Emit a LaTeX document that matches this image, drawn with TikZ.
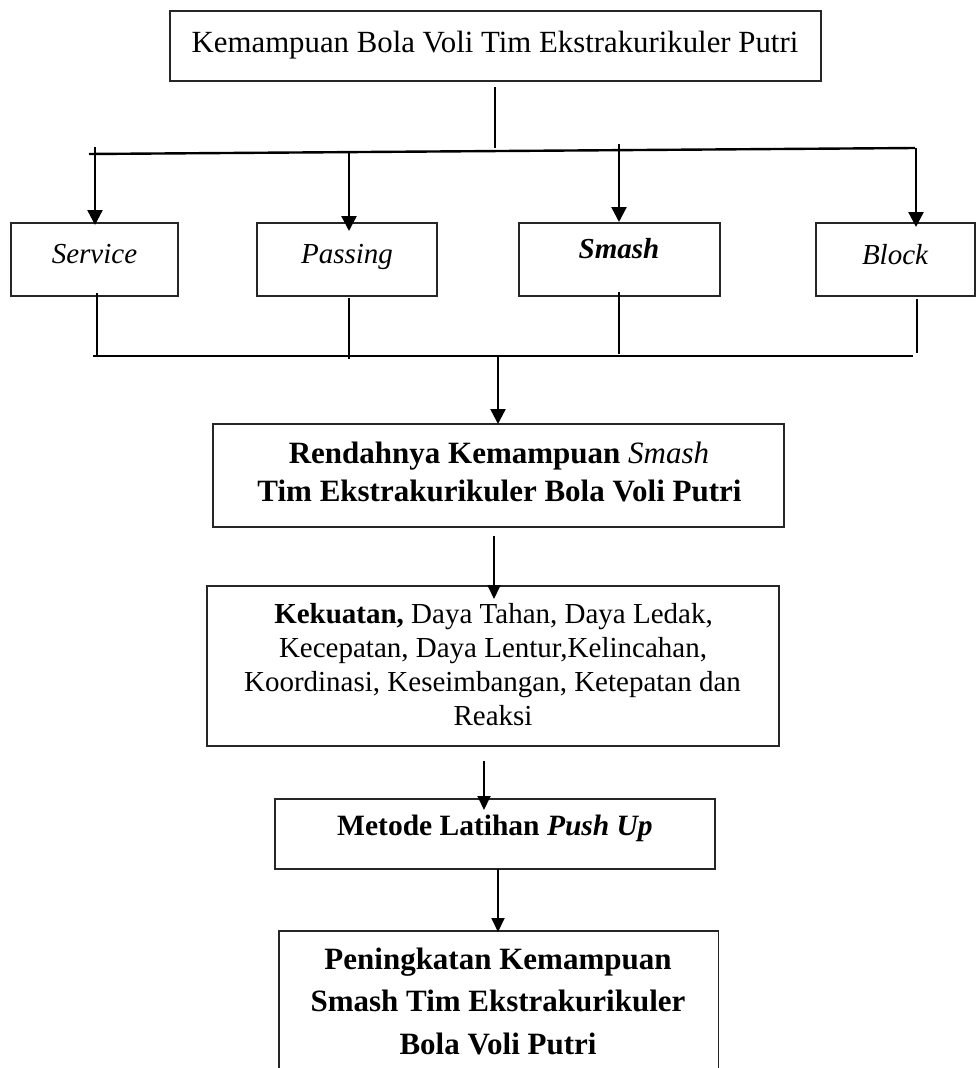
\documentclass[tikz,border=0pt]{standalone}
\usepackage{fontspec}
\setmainfont{Liberation Serif}
\usetikzlibrary{arrows.meta}
\begin{document}
\begin{tikzpicture}[x=1pt,y=-1pt,
 box/.style={draw=black!85, line width=1.1pt, inner sep=0pt, outer sep=0pt},
 txt/.style={anchor=base, inner sep=0pt, font=\fontsize{29}{34}\selectfont},
 btxt/.style={anchor=base, inner sep=0pt, font=\fontsize{31}{36}\selectfont\bfseries},
 conn/.style={line width=1.5pt},
 bus/.style={line width=2.4pt},
 arr/.style={line width=2.4pt, -{Triangle[width=15pt,length=15pt]}},
 arrs/.style={line width=1.8pt, -{Triangle[width=13pt,length=14pt]}},
]
\useasboundingbox (0,0) rectangle (977,1068);
\fill[white] (0,0) rectangle (977,1068);
\clip (0,0) rectangle (977,1068);

% boxes
\node[box, minimum width=651pt, minimum height=70pt] (top) at (495.5,46) {};
\node[box, minimum width=167pt, minimum height=73pt] (serv) at (94.5,259.5) {};
\node[box, minimum width=180pt, minimum height=73pt] (pass) at (347,259.5) {};
\node[box, minimum width=201pt, minimum height=73pt] (smash) at (619.5,259.5) {};
\node[box, minimum width=159pt, minimum height=73pt] (block) at (895.5,259.5) {};
\node[box, minimum width=571pt, minimum height=103pt] (ren) at (498.5,475.5) {};
\node[box, minimum width=572pt, minimum height=160pt] (kek) at (493,666) {};
\node[box, minimum width=440pt, minimum height=70pt] (met) at (495,834) {};
\node[box, minimum width=439.5pt, minimum height=180pt] (pen) at (498.75,1021) {};

% texts
\node[txt, font=\fontsize{30.8}{36}\selectfont] (ttop) at (495,52) {Kemampuan Bola Voli Tim Ekstrakurikuler Putri};
\node[txt] (tserv) at (94.5,263) {\itshape Service};
\node[txt] (tpass) at (347,263) {\itshape Passing};
\node[txt] (tsmash) at (619,258) {\bfseries\itshape Smash};
\node[txt] (tblock) at (895,264) {\itshape Block};
\node[btxt] (r1) at (499,463) {Rendahnya Kemampuan \textmd{\itshape Smash}};
\node[btxt] (r2) at (499.5,501) {Tim Ekstrakurikuler Bola Voli Putri};
\node[txt] (k1) at (493.5,623) {\textbf{Kekuatan,} Daya Tahan, Daya Ledak,};
\node[txt] (k2) at (493,657) {Kecepatan, Daya Lentur,Kelincahan,};
\node[txt] (k3) at (492.5,691) {Koordinasi, Keseimbangan, Ketepatan dan};
\node[txt] (k4) at (493,725) {Reaksi};
\node[btxt, font=\fontsize{29.5}{35}\selectfont\bfseries] (m1) at (495,835) {Metode Latihan \textit{Push Up}};
\node[btxt, font=\fontsize{31}{42}\selectfont\bfseries] (p1) at (498,969) {Peningkatan Kemampuan};
\node[btxt, font=\fontsize{31}{42}\selectfont\bfseries] (p2) at (498,1011) {Smash Tim Ekstrakurikuler};
\node[btxt, font=\fontsize{31}{42}\selectfont\bfseries] (p3) at (498,1054) {Bola Voli Putri};

% connector coordinates
\coordinate (topstub) at (495,87);
\coordinate (topjoin) at (495,148);
\coordinate (busL) at (89,154);
\coordinate (busR) at (915,148);
\coordinate (sA) at (95,147);   \coordinate (sB) at (95,225);
\coordinate (pA) at (349,153);  \coordinate (pB) at (349,231);
\coordinate (mA) at (619,144);  \coordinate (mB) at (619,222);
\coordinate (bA) at (916,148);  \coordinate (bB) at (916,227);
\coordinate (s2) at (97,293);   \coordinate (s3) at (97,356);
\coordinate (p2a) at (349,298); \coordinate (p3a) at (349,359);
\coordinate (m2) at (619,292);  \coordinate (m3) at (619,354);
\coordinate (b2) at (917,299);  \coordinate (b3) at (917,353);
\coordinate (bbL) at (93,356);  \coordinate (bbR) at (913,356);
\coordinate (c1) at (498,356);
\coordinate (c2) at (494,536);  \coordinate (c2b) at (494,599);
\coordinate (c3) at (484,761);  \coordinate (c3b) at (484,810);
\coordinate (c4) at (498,932);

% top tree
\draw[conn] (topstub) -- (topjoin);
\draw[bus] (busL) -- (busR);
\draw[arr] (sA) -- (sB);
\draw[arr] (pA) -- (pB);
\draw[arr] (mA) -- (mB);
\draw[arr] (bA) -- (bB);

% bottom gather
\draw[conn] (s2) -- (s3);
\draw[conn] (p2a) -- (p3a);
\draw[conn] (m2) -- (m3);
\draw[conn] (b2) -- (b3);
\draw[bus] (bbL) -- (bbR);
\draw[arr] (c1) -- (ren.north -| c1);

% lower chain
\draw[arrs] (c2) -- (c2b);
\draw[arrs] (c3) -- (c3b);
\draw[arrs] (met.south -| c4) -- (c4);
\end{tikzpicture}
\end{document}
